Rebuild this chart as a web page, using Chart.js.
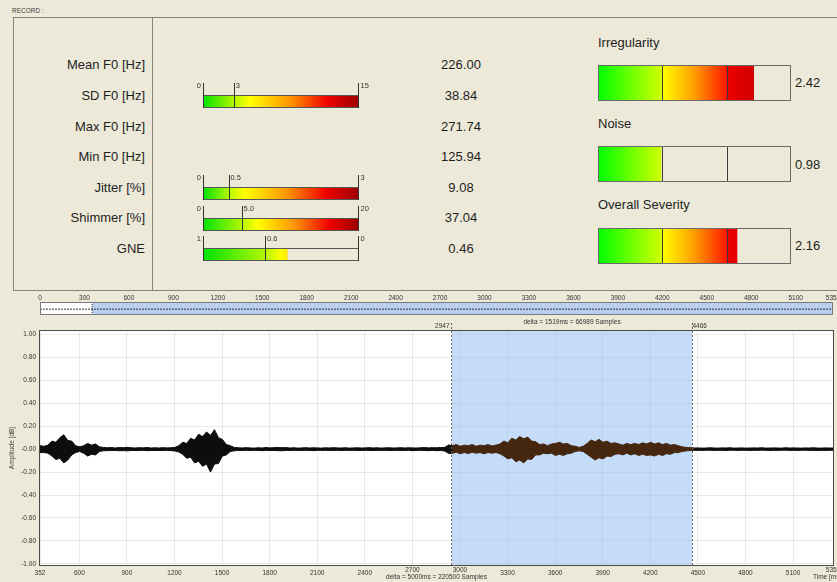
<!DOCTYPE html>
<html><head><meta charset="utf-8"><title>Voice report</title>
<script src="https://cdn.jsdelivr.net/npm/chart.js@4.4.1/dist/chart.umd.min.js"></script>
<style>
html,body{margin:0;padding:0;overflow:hidden;}
body{width:837px;height:582px;position:relative;background:#ECE9D8;font-family:"Liberation Sans",Arial,sans-serif;color:#1e1e1e;}
.t{position:absolute;white-space:nowrap;line-height:16px;font-size:13px;}
canvas{position:absolute;display:block;}
#panel{position:absolute;left:13px;top:17px;width:840px;height:274px;border:1px solid #85847a;box-sizing:border-box;}
#divider{position:absolute;left:152px;top:17px;width:1px;height:274px;background:#85847a;}
#record{position:absolute;left:12px;top:7px;font-size:6.5px;line-height:8px;color:#444;}
</style></head><body>
<div id="record">RECORD :</div>
<div id="panel"></div><div id="divider"></div>
<script>
// ---------------- DATA ----------------
const paramLabels = ['Mean F0 [Hz]','SD F0 [Hz]','Max F0 [Hz]','Min F0 [Hz]','Jitter [%]','Shimmer [%]','GNE'];
const paramValues = [226.00, 38.84, 271.74, 125.94, 9.08, 37.04, 0.46];
const paramValueText = ['226.00','38.84','271.74','125.94','9.08','37.04','0.46'];

const sdScale = [0, 3, 15];        const sdScaleText = ['0','3','15'];
const jitterScale = [0, 0.5, 3];   const jitterScaleText = ['0','0.5','3'];
const shimmerScale = [0, 5, 20];   const shimmerScaleText = ['0','5.0','20'];
const gneScale = [1, 0.6, 0];      const gneScaleText = ['1','0.6','0'];

const indexNames = ['Irregularity','Noise','Overall Severity'];
const indexValues = [2.42, 0.98, 2.16];
const indexValueText = ['2.42','0.98','2.16'];
const indexScale = [0, 1, 2, 3];

const stripTicks = [0,300,600,900,1200,1500,1800,2100,2400,2700,3000,3300,3600,3900,4200,4500,4800,5100,5352];
const stripRange = [0, 5352];
const viewRange = [352, 5352];

const xTicks = [352,600,900,1200,1500,1800,2100,2400,2700,3000,3300,3600,3900,4200,4500,4800,5100,5352];
const xTicksRaised = [2700, 3000, 5352];
const yTicks = [1,0.8,0.6,0.4,0.2,0,-0.2,-0.4,-0.6,-0.8,-1];
const yTickLabels = ['1.00','0.80','0.60','0.40','0.20','-0.00','-0.20','-0.40','-0.60','-0.80','-1.00'];

const selStart = 2947, selEnd = 4466;
const waveStart = 352, waveStep = 25;
// upper envelope (positive peaks), one value per 25 ms from 352 ms
const envTop = [
0.030,0.025,0.035,0.070,0.060,0.100,0.125,0.075,0.070,0.030,
0.020,0.030,0.050,0.035,0.045,0.020,0.015,0.012,0.014,0.010,
0.015,0.012,0.016,0.012,0.010,0.013,0.011,0.014,0.010,0.012,
0.010,0.013,0.011,0.012,0.015,0.030,0.060,0.050,0.095,0.080,
0.130,0.110,0.150,0.120,0.170,0.100,0.085,0.040,0.030,0.015,
0.012,0.010,0.013,0.011,0.009,0.012,0.010,0.014,0.011,0.013,
0.015,0.012,0.014,0.010,0.012,0.009,0.011,0.013,0.010,0.012,
0.011,0.009,0.012,0.010,0.013,0.011,0.010,0.012,0.009,0.011,
0.012,0.010,0.011,0.013,0.010,0.012,0.009,0.011,0.012,0.010,
0.011,0.013,0.010,0.012,0.011,0.010,0.012,0.014,0.011,0.013,
0.012,0.014,0.015,0.035,0.030,0.040,0.025,0.035,0.030,0.040,
0.025,0.035,0.030,0.040,0.028,0.035,0.045,0.070,0.055,0.095,
0.080,0.110,0.090,0.105,0.070,0.065,0.040,0.045,0.030,0.045,
0.050,0.060,0.045,0.050,0.030,0.025,0.015,0.025,0.050,0.080,
0.065,0.085,0.060,0.070,0.050,0.055,0.045,0.035,0.050,0.040,
0.050,0.040,0.055,0.045,0.060,0.045,0.055,0.040,0.050,0.035,
0.040,0.030,0.020,0.015,0.012,0.010,0.011,0.009,0.010,0.012,
0.010,0.009,0.011,0.010,0.012,0.009,0.010,0.011,0.009,0.010,
0.011,0.010,0.012,0.009,0.010,0.011,0.010,0.009,0.012,0.010,
0.011,0.010,0.009,0.011,0.010,0.012,0.010,0.009,0.011,0.010,
0.010];
// lower envelope (magnitude of negative peaks)
const envBot = [
0.030,0.030,0.035,0.060,0.090,0.080,0.120,0.095,0.050,0.030,
0.020,0.035,0.060,0.045,0.050,0.020,0.014,0.013,0.012,0.011,
0.014,0.013,0.015,0.011,0.012,0.012,0.010,0.013,0.011,0.012,
0.011,0.012,0.010,0.013,0.016,0.025,0.045,0.080,0.070,0.120,
0.105,0.150,0.130,0.200,0.130,0.125,0.060,0.050,0.020,0.015,
0.011,0.012,0.010,0.012,0.010,0.011,0.013,0.010,0.012,0.011,
0.013,0.014,0.011,0.012,0.010,0.011,0.012,0.010,0.011,0.013,
0.010,0.011,0.010,0.012,0.011,0.010,0.012,0.010,0.011,0.010,
0.011,0.012,0.010,0.011,0.012,0.010,0.011,0.010,0.012,0.011,
0.010,0.012,0.011,0.010,0.013,0.011,0.010,0.012,0.013,0.011,
0.013,0.012,0.016,0.035,0.035,0.028,0.040,0.030,0.038,0.028,
0.035,0.030,0.040,0.030,0.035,0.030,0.040,0.060,0.085,0.075,
0.110,0.095,0.120,0.085,0.090,0.050,0.050,0.035,0.040,0.035,
0.055,0.045,0.055,0.040,0.035,0.020,0.015,0.020,0.045,0.070,
0.095,0.075,0.085,0.060,0.065,0.045,0.040,0.050,0.035,0.050,
0.040,0.055,0.045,0.055,0.050,0.060,0.045,0.055,0.040,0.045,
0.030,0.030,0.020,0.015,0.012,0.011,0.010,0.011,0.010,0.009,
0.011,0.010,0.010,0.012,0.009,0.010,0.011,0.010,0.010,0.011,
0.010,0.011,0.009,0.010,0.012,0.010,0.011,0.010,0.009,0.011,
0.010,0.011,0.010,0.009,0.011,0.010,0.012,0.010,0.011,0.010,
0.010];

// ---------------- LAYOUT HELPERS ----------------
const FONT = '"Liberation Sans", Arial, sans-serif';
Chart.defaults.font.family = FONT;
Chart.defaults.color = '#333';

function addText(txt, x, cy, align, size, color){
  const d = document.createElement('div');
  d.className = 't'; d.textContent = txt;
  if (size) { d.style.fontSize = size + 'px'; }
  if (color) d.style.color = color;
  d.style.top = (cy - 8) + 'px';
  if (align === 'right') { d.style.left = '0px'; d.style.width = x + 'px'; d.style.textAlign = 'right'; }
  else if (align === 'center') { d.style.left = (x - 60) + 'px'; d.style.width = '120px'; d.style.textAlign = 'center'; }
  else d.style.left = x + 'px';
  document.body.appendChild(d);
}
function makeCanvas(l, t, w, h){
  const c = document.createElement('canvas');
  c.width = w; c.height = h;
  c.style.left = l + 'px'; c.style.top = t + 'px';
  c.style.width = w + 'px'; c.style.height = h + 'px';
  document.body.appendChild(c);
  return c;
}

const rowY = [65, 96, 127, 157, 188, 218, 249];
paramLabels.forEach((s, i) => addText(s, 145, rowY[i], 'right'));
paramValueText.forEach((s, i) => addText(s, 461, rowY[i], 'center'));

// ---------------- SMALL GAUGES ----------------
const smallGaugePlugin = {
  id: 'smallGauge',
  afterDatasetsDraw(chart, args, opts){
    const {ctx, chartArea: a, scales: {x}} = chart;
    ctx.save();
    ctx.strokeStyle = '#555'; ctx.lineWidth = 1;
    ctx.strokeRect(Math.round(a.left) + 0.5, Math.round(a.top) + 0.5, Math.round(a.right - a.left) - 1, Math.round(a.bottom - a.top) - 1);
    ctx.strokeStyle = '#333';
    opts.marks.forEach(m => {
      let px = Math.round(x.getPixelForValue(m)) + 0.5;
      if (px > a.right) px = a.right - 0.5;
      ctx.beginPath(); ctx.moveTo(px, a.top - 12); ctx.lineTo(px, a.bottom); ctx.stroke();
    });
    ctx.font = '7.5px ' + FONT; ctx.fillStyle = '#333'; ctx.textBaseline = 'alphabetic';
    const ty = a.top - 10 + 2.7;
    opts.texts.forEach((s, k) => {
      const px = x.getPixelForValue(opts.marks[k]);
      if (k === 0) { ctx.textAlign = 'right'; ctx.fillText(s, px - 2, ty); }
      else { ctx.textAlign = 'left'; ctx.fillText(s, px + 1.5, ty); }
    });
    ctx.restore();
  }
};
function smallGrad(chart, mark){
  const a = chart.chartArea; if (!a) return 'transparent';
  const x = chart.scales.x;
  const f = Math.abs(x.getPixelForValue(mark) - a.left) / (a.right - a.left);
  const g = chart.ctx.createLinearGradient(a.left, 0, a.right, 0);
  g.addColorStop(0, '#00e400');
  g.addColorStop(f, '#b4f700');
  g.addColorStop(Math.min(1, f + 0.1), '#ffff00');
  g.addColorStop(f + (1 - f) * 0.45, '#ff9400');
  g.addColorStop(f + (1 - f) * 0.75, '#f00000');
  g.addColorStop(1, '#9a0000');
  return g;
}
function smallGauge(barTop, scale, texts, value){
  const L = 185, W = 195, H = 13 + 18;
  const c = makeCanvas(L, barTop - 16, W, H);
  const lo = Math.min(scale[0], scale[2]), hi = Math.max(scale[0], scale[2]);
  const v = Math.max(lo, Math.min(hi, value));
  new Chart(c, {
    type: 'bar',
    data: { labels: [''], datasets: [{
      data: [[scale[0], v]],
      backgroundColor: ctx => smallGrad(ctx.chart, scale[1]),
      borderWidth: 0, barPercentage: 1, categoryPercentage: 1
    }]},
    options: {
      indexAxis: 'y', responsive: false, animation: false, events: [],
      layout: { padding: { left: 203 - L, right: W - (359 - L), top: 16, bottom: 2 } },
      scales: {
        x: { type: 'linear', min: lo, max: hi, reverse: scale[0] > scale[2], display: false },
        y: { display: false }
      },
      plugins: { legend: { display: false }, tooltip: { enabled: false },
        smallGauge: { marks: scale, texts: texts } }
    },
    plugins: [smallGaugePlugin]
  });
}
smallGauge(95, sdScale, sdScaleText, paramValues[1]);
smallGauge(187, jitterScale, jitterScaleText, paramValues[4]);
smallGauge(218, shimmerScale, shimmerScaleText, paramValues[5]);
smallGauge(248, gneScale, gneScaleText, paramValues[6]);

// ---------------- BIG GAUGES ----------------
const bigGaugePlugin = {
  id: 'bigGauge',
  afterDatasetsDraw(chart, args, opts){
    const {ctx, chartArea: a, scales: {x}} = chart;
    ctx.save();
    ctx.lineWidth = 1;
    ctx.strokeStyle = '#3c3c3c';
    opts.marks.slice(1, -1).forEach(m => {
      const px = Math.round(x.getPixelForValue(m)) + 0.5;
      ctx.beginPath(); ctx.moveTo(px, a.top); ctx.lineTo(px, a.bottom); ctx.stroke();
    });
    ctx.strokeStyle = '#6a6a6a';
    ctx.strokeRect(Math.round(a.left) + 0.5, Math.round(a.top) + 0.5, Math.round(a.right - a.left) - 1, Math.round(a.bottom - a.top) - 1);
    ctx.restore();
  }
};
function bigGrad(chart){
  const a = chart.chartArea; if (!a) return 'transparent';
  const x = chart.scales.x, w = a.right - a.left;
  const f1 = (x.getPixelForValue(indexScale[1]) - a.left) / w;
  const f2 = (x.getPixelForValue(indexScale[2]) - a.left) / w;
  const g = chart.ctx.createLinearGradient(a.left, 0, a.right, 0);
  g.addColorStop(0, '#00ff00');
  g.addColorStop(f1, '#d4ff00');
  g.addColorStop(f1 + 0.002, '#ffff00');
  g.addColorStop((f1 + f2) / 2, '#ff9c00');
  g.addColorStop(f2 - 0.002, '#ff1a00');
  g.addColorStop(f2, '#ee0000');
  g.addColorStop(1, '#a80000');
  return g;
}
const bigTops = [65, 146, 228];
const bigTitleY = [43, 124, 205];
const bigValueY = [83, 165, 246];
indexNames.forEach((name, i) => {
  addText(name, 598, bigTitleY[i], 'left');
  addText(indexValueText[i], 795, bigValueY[i], 'left');
  const L = 590, W = 210, H = 40, bh = 36;
  const c = makeCanvas(L, bigTops[i] - 2, W, H);
  new Chart(c, {
    type: 'bar',
    data: { labels: [''], datasets: [{
      data: [[indexScale[0], Math.min(indexScale[3], indexValues[i])]],
      backgroundColor: ctx => bigGrad(ctx.chart),
      borderWidth: 0, barPercentage: 1, categoryPercentage: 1
    }]},
    options: {
      indexAxis: 'y', responsive: false, animation: false, events: [],
      layout: { padding: { left: 598 - L, right: W - (791 - L), top: 2, bottom: H - 2 - bh } },
      scales: {
        x: { type: 'linear', min: indexScale[0], max: indexScale[3], display: false },
        y: { display: false }
      },
      plugins: { legend: { display: false }, tooltip: { enabled: false },
        bigGauge: { marks: indexScale } }
    },
    plugins: [bigGaugePlugin]
  });
});

// ---------------- OVERVIEW STRIP ----------------
const stripPlugin = {
  id: 'strip',
  beforeDraw(chart){
    const {ctx, chartArea: a} = chart;
    ctx.save(); ctx.fillStyle = '#ffffff';
    ctx.fillRect(a.left, a.top, a.right - a.left, a.bottom - a.top); ctx.restore();
  },
  afterDraw(chart){
    const {ctx, chartArea: a} = chart;
    ctx.save(); ctx.strokeStyle = '#7a7a7a'; ctx.lineWidth = 1;
    ctx.strokeRect(Math.round(a.left) + 0.5, Math.round(a.top) + 0.5, Math.round(a.right - a.left) - 1, Math.round(a.bottom - a.top) - 1);
    ctx.restore();
  }
};
{
  const c = makeCanvas(0, 290, 870, 27);
  new Chart(c, {
    type: 'line',
    data: { datasets: [
      { data: [{x: viewRange[0], y: 1}, {x: viewRange[1], y: 1}], fill: 'start',
        backgroundColor: '#b9cdf1', borderWidth: 0, pointRadius: 0, order: 5 },
      { data: [{x: stripRange[0], y: 0.45}, {x: stripRange[1], y: 0.45}], borderColor: '#333',
        borderWidth: 1, borderDash: [2, 1], pointRadius: 0, fill: false, order: 1 },
      { data: [{x: viewRange[0], y: 0}, {x: viewRange[0], y: 1}], borderColor: '#333',
        borderWidth: 1, borderDash: [1, 1], pointRadius: 0, fill: false, order: 1 }
    ]},
    options: {
      responsive: false, animation: false, events: [],
      layout: { padding: { left: 40, right: 870 - 833, top: 0, bottom: 2 } },
      scales: {
        x: { type: 'linear', position: 'top', min: stripRange[0], max: stripRange[1],
          afterBuildTicks: s => { s.ticks = stripTicks.map(v => ({value: v})); },
          afterFit: s => { s.height = 12; },
          ticks: { autoSkip: false, maxRotation: 0, padding: 0, font: { size: 6.5 }, color: '#333',
            callback: v => String(v) },
          grid: { display: false, drawTicks: false }, border: { display: false } },
        y: { min: 0, max: 1, display: false }
      },
      plugins: { legend: { display: false }, tooltip: { enabled: false } }
    },
    plugins: [stripPlugin]
  });
}

// ---------------- WAVEFORM ----------------
const waveRegions = [[waveStart, selStart, '#0d0d0d'], [selStart, selEnd, '#45260f'], [selEnd, viewRange[1], '#0d0d0d']];
const waveDatasets = [];
waveRegions.forEach(([r0, r1, col]) => {
  const top = [], bot = [];
  envTop.forEach((v, i) => {
    const t = waveStart + i * waveStep;
    if (t >= r0 - waveStep && t <= r1 + waveStep) {
      top.push({x: t, y: v});
      bot.push({x: t, y: -envBot[i]});
    }
  });
  waveDatasets.push({ data: top, borderColor: col, backgroundColor: col, borderWidth: 1, pointRadius: 0,
    tension: 0, fill: '+1', order: 2 });
  waveDatasets.push({ data: bot, borderColor: col, borderWidth: 1, pointRadius: 0, tension: 0, fill: false, order: 2 });
});
const Y_MIN = -1.01, Y_MAX = 1.03;
const wavePlugin = {
  id: 'wave',
  beforeDraw(chart){
    const {ctx, chartArea: a} = chart;
    ctx.save(); ctx.fillStyle = '#ffffff';
    ctx.fillRect(a.left, a.top, a.right - a.left, a.bottom - a.top); ctx.restore();
  },
  afterDraw(chart){
    const {ctx, chartArea: a, scales: {x}} = chart;
    ctx.save();
    ctx.strokeStyle = '#4a4a4a'; ctx.lineWidth = 1;
    ctx.strokeRect(Math.round(a.left) - 0.5, Math.round(a.top) - 0.5, Math.round(a.right - a.left) + 1, Math.round(a.bottom - a.top) + 1);
    ctx.font = '6.5px ' + FONT; ctx.fillStyle = '#333'; ctx.textBaseline = 'middle';
    const xs = x.getPixelForValue(selStart), xe = x.getPixelForValue(selEnd);
    ctx.textAlign = 'right'; ctx.fillText(String(selStart), xs - 2, a.top - 5);
    ctx.textAlign = 'left'; ctx.fillText(String(selEnd), xe, a.top - 5);
    ctx.textAlign = 'center';
    ctx.fillText('delta = ' + (selEnd - selStart) + 'ms = 66989 Samples', (xs + xe) / 2, a.top - 9);
    ctx.fillText('delta = ' + (viewRange[1] - viewRange[0]) + 'ms = 220500 Samples', (a.left + a.right) / 2, a.bottom + 12.7);
    ctx.textAlign = 'left';
    ctx.fillText('Time [ms]', 813, a.bottom + 12.7);
    ctx.restore();
  }
};
{
  const c = makeCanvas(0, 316, 870, 266);
  new Chart(c, {
    type: 'line',
    data: { datasets: waveDatasets.concat([
      { data: [{x: selStart, y: Y_MAX}, {x: selEnd, y: Y_MAX}], fill: 'start',
        backgroundColor: 'rgba(140,186,244,0.5)', borderWidth: 0, pointRadius: 0, order: 5 },
      { data: [{x: selStart, y: Y_MIN}, {x: selStart, y: 1.11}], borderColor: '#666', borderWidth: 1,
        borderDash: [2, 2], pointRadius: 0, fill: false, clip: false, order: 1 },
      { data: [{x: selEnd, y: Y_MIN}, {x: selEnd, y: 1.11}], borderColor: '#666', borderWidth: 1,
        borderDash: [2, 2], pointRadius: 0, fill: false, clip: false, order: 1 }
    ])},
    options: {
      responsive: false, animation: false, events: [],
      layout: { padding: { left: 0, right: 870 - 833, top: 15, bottom: 0 } },
      scales: {
        x: { type: 'linear', min: viewRange[0], max: viewRange[1],
          afterBuildTicks: s => { s.ticks = xTicks.map(v => ({value: v})); },
          afterFit: s => { s.height = 17; },
          ticks: { autoSkip: false, maxRotation: 0, padding: 4, color: '#333',
            font: ctx => ({ size: 6.5, lineHeight: (ctx.tick && xTicksRaised.includes(ctx.tick.value)) ? 0.3 : 1.2 }),
            callback: v => String(v) },
          grid: { color: 'rgba(170,160,120,0.22)', drawTicks: false }, border: { display: false } },
        y: { min: Y_MIN, max: Y_MAX,
          afterBuildTicks: s => { s.ticks = yTicks.map(v => ({value: v})); },
          afterFit: s => { s.width = 40; },
          ticks: { padding: 4, font: { size: 6.5 }, color: '#333',
            callback: v => yTickLabels[yTicks.indexOf(v)] },
          title: { display: true, text: 'Amplitude [dB]', font: { size: 6.5 }, color: '#444', padding: { top: 8.5, bottom: 0 } },
          grid: { color: 'rgba(170,160,120,0.22)', drawTicks: false }, border: { display: false } }
      },
      plugins: { legend: { display: false }, tooltip: { enabled: false } }
    },
    plugins: [wavePlugin]
  });
}
</script>
</body></html>
